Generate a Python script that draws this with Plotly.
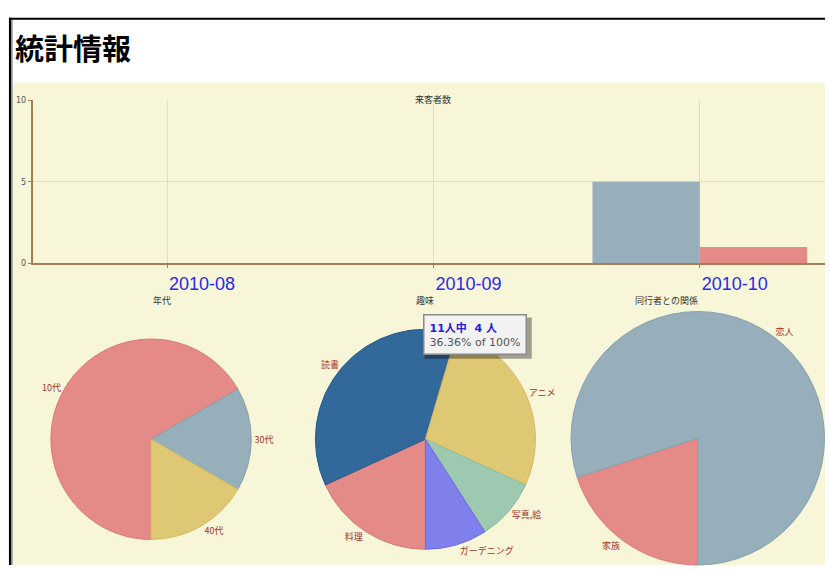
import plotly.graph_objects as go

W, H = 830, 571

# ---- data ----
months = ["2010-08", "2010-09", "2010-10"]
visitors_a = [0, 0, 5]
visitors_b = [0, 0, 1]

age_labels = ["10代", "30代", "40代"]
age_values = [4, 1, 1]

hobby_labels = ["料理", "読書", "アニメ", "写真,絵", "ガーデニング"]
hobby_values = [2, 4, 3, 1, 1]

rel_labels = ["家族", "恋人"]
rel_values = [1, 4]

# ---- styles ----
RED, GRAY, YEL, TEAL, PURP, DKBLUE = "#e48a87", "#97afbb", "#dfc873", "#9ec9b1", "#7f80ec", "#33689b"
RED_L, GRAY_L, YEL_L, TEAL_L, PURP_L, DKBLUE_L = "#d97a78", "#86a1b0", "#d4bb60", "#8dbba1", "#6a6be6", "#2a5a8a"
CREAM = "#f8f6d8"
GRID = "#f1dca8"
BROWN = "#a77d55"
LABEL_RED = "#a8302c"
JP = "Noto Sans CJK JP"


def px(x):
    return x / W


def py(y):
    return 1 - y / H


fig = go.Figure()

fig.add_trace(go.Bar(x=months, y=visitors_a, marker=dict(color=GRAY, line=dict(width=0)),
                     xaxis="x", yaxis="y", showlegend=False))
fig.add_trace(go.Bar(x=months, y=visitors_b, marker=dict(color=RED, line=dict(width=0)),
                     xaxis="x", yaxis="y", showlegend=False))

pie_common = dict(direction="clockwise", rotation=180, sort=False, textinfo="label",
                  textposition="outside", showlegend=False,
                  textfont=dict(size=9, color=LABEL_RED, family=JP))

fig.add_trace(go.Pie(labels=age_labels, values=age_values,
                     marker=dict(colors=[RED, GRAY, YEL], line=dict(color=[RED_L, GRAY_L, YEL_L], width=1)),
                     domain=dict(x=[px(50), px(254)], y=[py(545), py(341)]), **pie_common))
fig.add_trace(go.Pie(labels=hobby_labels, values=hobby_values,
                     marker=dict(colors=[RED, DKBLUE, YEL, TEAL, PURP],
                                 line=dict(color=[RED_L, DKBLUE_L, YEL_L, TEAL_L, PURP_L], width=1)),
                     domain=dict(x=[px(316), px(540)], y=[py(555), py(331)]), **pie_common))
fig.add_trace(go.Pie(labels=rel_labels, values=rel_values,
                     marker=dict(colors=[RED, GRAY], line=dict(color=[RED_L, GRAY_L], width=1)),
                     domain=dict(x=[px(574), 1], y=[0, py(313)]), **pie_common))

shapes = [
    dict(type="rect", xref="paper", yref="paper", x0=px(13), x1=1, y0=0, y1=py(80),
         fillcolor=CREAM, line=dict(width=0), layer="below"),
    dict(type="rect", xref="paper", yref="paper", x0=px(9), x1=px(11.5), y0=0, y1=py(14),
         fillcolor="#000", line=dict(width=0), layer="above"),
    dict(type="rect", xref="paper", yref="paper", x0=px(12), x1=px(13), y0=0, y1=py(16),
         fillcolor="#aaa", line=dict(width=0), layer="above"),
    dict(type="rect", xref="paper", yref="paper", x0=px(9), x1=1, y0=py(16), y1=py(14),
         fillcolor="#000", line=dict(width=0), layer="above"),
    # tooltip shadow
    dict(type="rect", xref="paper", yref="paper", x0=px(427), x1=px(535), y0=py(361), y1=py(319),
         fillcolor="rgba(0,0,0,0.35)", line=dict(width=0), layer="above"),
]

annotations = [
    dict(text="<b>統計情報</b>", x=px(13), y=py(44), xref="paper", yref="paper", xanchor="left",
         yanchor="middle", showarrow=False, font=dict(family=JP, size=29, color="#000")),
    dict(text="来客者数", x=px(436), y=py(89), xref="paper", yref="paper", showarrow=False,
         font=dict(family=JP, size=9, color="#333")),
    dict(text="年代", x=px(152), y=py(302), xref="paper", yref="paper", showarrow=False,
         font=dict(family=JP, size=9, color="#333")),
    dict(text="趣味", x=px(428), y=py(302), xref="paper", yref="paper", showarrow=False,
         font=dict(family=JP, size=9, color="#333")),
    dict(text="同行者との関係", x=px(704), y=py(302), xref="paper", yref="paper", showarrow=False,
         font=dict(family=JP, size=9, color="#333")),
    dict(text="<b><span style='color:#2020e0'>11人中  4 人</span></b><br>36.36% of 100%",
         x=px(478), y=py(336), xref="paper", yref="paper", showarrow=False, align="left",
         bgcolor="#f2f2f2", bordercolor="#8a8a8a", borderwidth=1.5, borderpad=5,
         font=dict(family="DejaVu Sans, " + JP, size=11, color="#555")),
]

fig.update_layout(
    width=W, height=H,
    margin=dict(l=0, r=0, t=0, b=0),
    paper_bgcolor="#ffffff",
    plot_bgcolor="rgba(0,0,0,0)",
    barmode="group", bargap=0.194, bargroupgap=0,
    hovermode=False,
    shapes=shapes,
    annotations=annotations,
    xaxis=dict(domain=[px(33), 1], type="category", range=[-0.504, 2.47],
               showgrid=True, gridcolor=GRID, gridwidth=1,
               showline=True, linecolor=BROWN, linewidth=2,
               ticks="outside", ticklen=3, tickcolor=BROWN, ticklabelshift=35,
               tickfont=dict(family="Liberation Sans, Arial", size=18, color="#2a2ae8"),
               zeroline=False, fixedrange=True),
    yaxis=dict(domain=[py(264), py(98)], range=[0, 10], tickvals=[0, 5, 10],
               showgrid=True, gridcolor=GRID, gridwidth=1,
               showline=True, linecolor=BROWN, linewidth=2,
               ticks="outside", ticklen=3, tickcolor=BROWN,
               tickfont=dict(family="DejaVu Sans", size=8, color="#555"),
               zeroline=False, fixedrange=True),
)

fig.write_html("out.html", config={"displayModeBar": False},
               post_script="document.body.style.margin='0px';document.body.style.overflow='hidden';")
